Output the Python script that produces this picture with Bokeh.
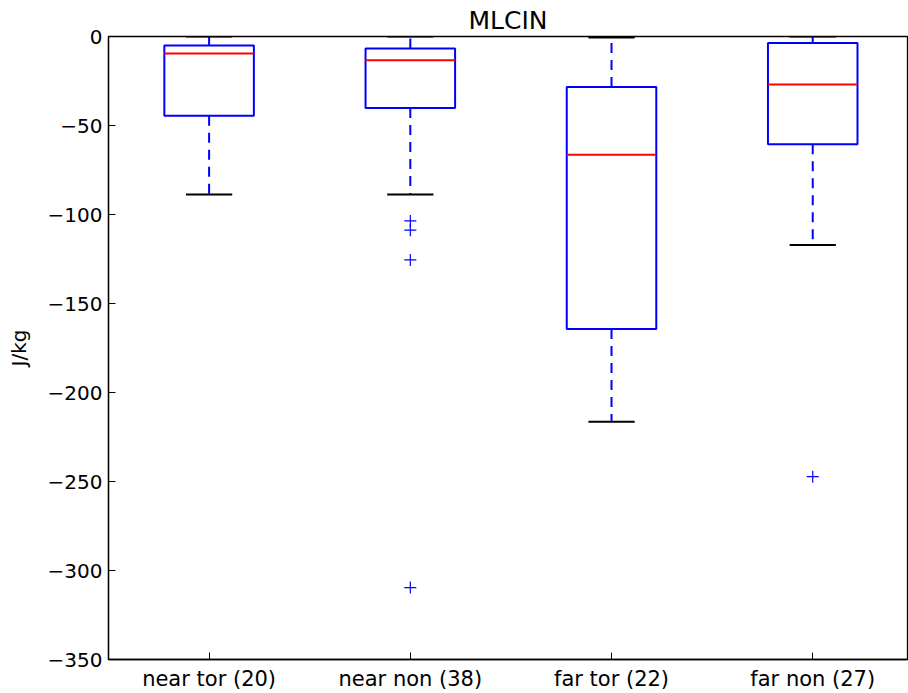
import numpy as np
from bokeh.plotting import figure
from bokeh.models import FixedTicker, ColumnDataSource
from bokeh.embed import file_html
from bokeh.resources import INLINE

# ---- data ----
categories = ["near tor (20)", "near non (38)", "far tor (22)", "far non (27)"]
positions = [1, 2, 3, 4]
q1 = [-44.5, -40.2, -164.3, -60.6]
median = [-9.5, -13.3, -66.4, -26.9]
q3 = [-5.0, -6.7, -28.4, -3.7]
whisker_low = [-88.8, -88.8, -216.5, -117.2]
whisker_high = [0.0, 0.0, -0.5, 0.0]
flier_pos = [2, 2, 2, 2, 4]
flier_val = [-103.6, -108.8, -125.5, -309.6, -247.3]
y_ticks = [0, -50, -100, -150, -200, -250, -300, -350]

FONT = "DejaVu Sans"
BOX_W = 0.445
CAP_W = 0.23

p = figure(width=908, height=693, output_backend="svg", toolbar_location=None,
           x_range=(0.5, 4.471), y_range=(-350, 0),
           min_border_left=108, min_border_right=1, min_border_top=36,
           min_border_bottom=33, title="MLCIN")
p.background_fill_color = "white"
p.border_fill_color = "white"
p.outline_line_color = "black"
p.outline_line_width = 1.3
p.grid.visible = False

p.title.text_font = FONT
p.title.text_font_size = "25px"
p.title.text_font_style = "normal"
p.title.text_color = "black"
p.title.align = "center"
p.title.offset = 4
p.title.standoff = 4

x = np.array(positions, dtype=float)
src = ColumnDataSource(dict(
    x=x, q1=q1, q3=q3, med=median, lo=whisker_low, hi=whisker_high,
    bl=x - BOX_W / 2, br=x + BOX_W / 2, cl=x - CAP_W / 2, cr=x + CAP_W / 2,
))

# whiskers
p.segment(x0="x", y0="q1", x1="x", y1="lo", source=src, line_color="#0000ff",
          line_width=2, line_dash="10 7")
p.segment(x0="x", y0="q3", x1="x", y1="hi", source=src, line_color="#0000ff",
          line_width=2, line_dash="10 7")
# caps
p.segment(x0="cl", y0="lo", x1="cr", y1="lo", source=src, line_color="black", line_width=2)
p.segment(x0="cl", y0="hi", x1="cr", y1="hi", source=src, line_color="black", line_width=2)
# boxes
p.quad(left="bl", right="br", bottom="q1", top="q3", source=src,
       fill_color=None, line_color="#0000ff", line_width=2)
# medians
p.segment(x0="bl", y0="med", x1="br", y1="med", source=src, line_color="#ff0000", line_width=2)
# fliers
p.scatter(flier_pos, flier_val, marker="cross", size=12, line_color="#0000ff",
          line_width=1.2)

# axes
xa = p.xaxis[0]
xa.ticker = FixedTicker(ticks=positions)
xa.major_label_overrides = {pp: c for pp, c in zip(positions, categories)}
ya = p.yaxis[0]
ya.ticker = FixedTicker(ticks=y_ticks)
ya.major_label_overrides = {t: (str(t).replace("-", "\u2212")) for t in y_ticks}
ya.axis_label = "J/kg"
ya.axis_label_standoff = 14
ya.axis_label_text_font = FONT
ya.axis_label_text_font_size = "20px"
ya.axis_label_text_font_style = "normal"
ya.axis_label_text_color = "black"

for ax in (xa, ya):
    ax.minor_tick_line_color = None
    ax.major_tick_in = 7
    ax.major_tick_out = 0
    ax.major_tick_line_color = "black"
    ax.axis_line_color = "black"
    ax.axis_line_width = 1.3
    ax.major_label_text_font = FONT
    ax.major_label_text_color = "black"
xa.major_label_text_font_size = "21px"
ya.major_label_text_font_size = "20px"
xa.major_label_standoff = 7
ya.major_label_standoff = 6

open("out.html", "w").write(file_html(p, INLINE))
